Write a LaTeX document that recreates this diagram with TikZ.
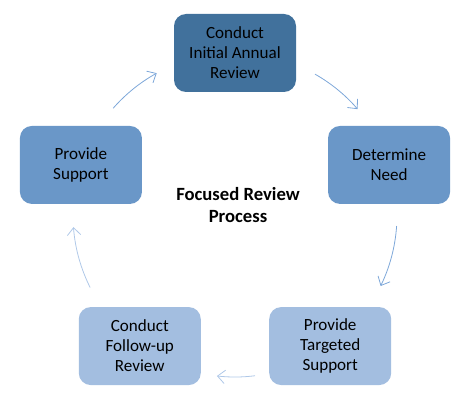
\documentclass[tikz,border=0pt]{standalone}
\usepackage{fontspec}
\setmainfont{Carlito}
\definecolor{stepdark}{RGB}{65, 113, 156}
\definecolor{stepmid}{RGB}{106, 151, 200}
\definecolor{steplight}{RGB}{163, 190, 224}
\definecolor{arrowblue}{RGB}{125, 167, 217}
\definecolor{arrowlight}{RGB}{175, 200, 232}
\usetikzlibrary{arrows.meta,positioning}

\tikzset{
  stepbox/.style={rectangle, rounded corners=9pt, minimum width=91.5pt, minimum height=58.5pt,
    align=center, font=\fontsize{12.8}{15}\selectfont, text=black, inner sep=2pt},
  cyclearrow/.style={line width=0.6pt, -{Straight Barb[length=5.5pt, width=10pt, line width=0.6pt]}}
}

\begin{document}
\begin{tikzpicture}[x=0.75pt, y=0.75pt]
        % Canvas (circle centre at the origin)
        \useasboundingbox (-235, -192) rectangle (239, 215);

        % Steps of the cycle
        \node[stepbox, fill=stepdark]  (review)   at (90:162)   {Conduct\\Initial Annual\\Review};
        \node[stepbox, fill=stepmid]   (need)     at (18:162)   {Determine\\Need};
        \node[stepbox, fill=steplight] (targeted) at (-54:162)  {Provide\\Targeted\\Support};
        \node[stepbox, fill=steplight] (followup) at (-126:162) {Conduct\\Follow-up\\Review};
        \node[stepbox, fill=stepmid]   (support)  at (162:162)  {Provide\\Support};

        % Title in the middle
        \node[align=center, font=\fontsize{14}{17}\selectfont\bfseries] (title) at (3, 10) {Focused Review\\Process};

        % Arrows along the circle
        \foreach \a/\b/\c [count=\i] in {60.4/40.8/arrowblue, -3.9/-26/arrowblue, -82.9/-96.4/arrowlight,
                                          206.6/184.3/arrowlight, 138.8/118.9/arrowblue} {
            \coordinate (arc\i) at (\a:162);
            \draw[cyclearrow, draw=\c] (arc\i) arc[start angle=\a, end angle=\b, radius=162];
        }
    \end{tikzpicture}
\end{document}
